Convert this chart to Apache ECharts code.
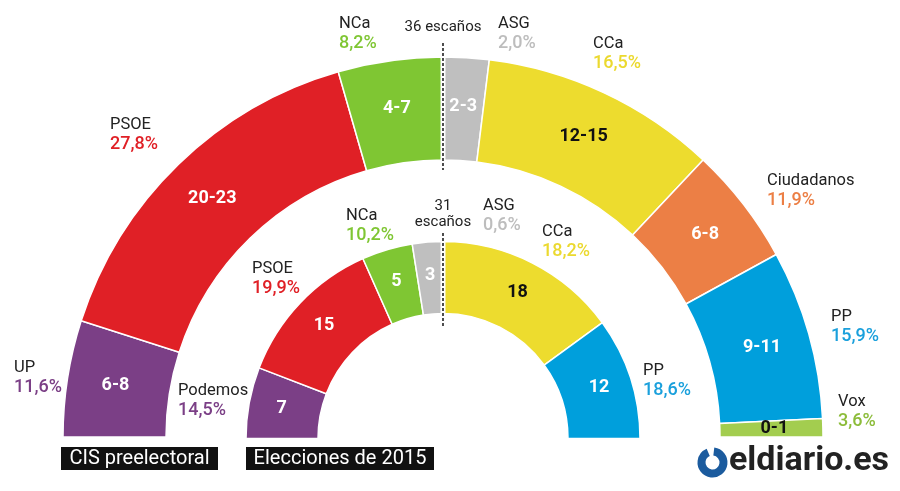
<!DOCTYPE html>
<html>
<head>
<meta charset="utf-8">
<script src="https://cdn.jsdelivr.net/npm/echarts@6/dist/echarts.min.js"></script>
<style>
html,body{margin:0;padding:0;background:#fff;}
#c{width:900px;height:491px;}
</style>
</head>
<body>
<div id="c"></div>
<script>
// ---- data ----
const outerParties = ['UP', 'PSOE', 'NCa', 'ASG', 'CCa', 'Ciudadanos', 'PP', 'Vox'];
const outerSeats = ['6-8', '20-23', '4-7', '2-3', '12-15', '6-8', '9-11', '0-1'];
const outerArcShare = [17.8, 56.2, 16.0, 7.0, 36.2, 18.1, 25.9, 2.8];
const outerVote = ['11,6%', '27,8%', '8,2%', '2,0%', '16,5%', '11,9%', '15,9%', '3,6%'];

const innerParties = ['Podemos', 'PSOE', 'NCa', 'ASG', 'CCa', 'PP'];
const innerSeats = [7, 15, 5, 3, 18, 12];
const innerVote = ['14,5%', '19,9%', '10,2%', '0,6%', '18,2%', '18,6%'];

const outerMajority = '36 escaños';
const innerMajority = ['31', 'escaños'];
const titles = ['CIS preelectoral', 'Elecciones de 2015'];

// ---- styles / layout ----
const partyColor = {
  UP: '#7b3f86', Podemos: '#7b3f86', PSOE: '#e02026', NCa: '#7fc633', ASG: '#bfbfbf',
  CCa: '#eddc2e', Ciudadanos: '#ec7f45', PP: '#009fdc', Vox: '#a3cd4f'
};
const pctColor = {
  UP: '#7b3f86', Podemos: '#7b3f86', PSOE: '#e02026', NCa: '#7fc633', ASG: '#bdbdbd',
  CCa: '#ebd92f', Ciudadanos: '#ec7f45', PP: '#1aa0dc', Vox: '#8cbc3a'
};
const darkLabel = { CCa: true, Vox: true };

const outerLabelPos = [[14, 368], [110, 125], [339, 24], [498, 24], [593, 44], [767, 181], [831, 317], [838, 402]];
const innerLabelPos = [[178, 391], [252, 269], [346, 216], [483, 206], [542, 232], [643, 371]];

const FONT = 'Roboto, "Noto Sans", sans-serif';

function pieData(parties, values, labels) {
  return parties.map((p, i) => ({
    name: p,
    value: values[i],
    itemStyle: { color: partyColor[p] },
    label: { color: darkLabel[p] ? '#111' : '#fff' },
    seatLabel: String(labels[i])
  }));
}

const outerData = pieData(outerParties, outerArcShare, outerSeats);
const innerData = pieData(innerParties, innerSeats, innerSeats);

function pieSeries(data, center, radius) {
  return {
    type: 'pie',
    center: center,
    radius: radius,
    startAngle: 180,
    endAngle: 0,
    clockwise: true,
    avoidLabelOverlap: false,
    silent: true,
    animation: false,
    itemStyle: { borderColor: '#fff', borderWidth: 1.5 },
    label: {
      show: true,
      position: 'inside',
      fontFamily: FONT,
      fontWeight: 'bold',
      fontSize: 18,
      formatter: p => data[p.dataIndex].seatLabel
    },
    labelLine: { show: false },
    emphasis: { disabled: true },
    data: data
  };
}

const graphics = [];
function partyLabels(parties, votes, pos) {
  parties.forEach((p, i) => {
    graphics.push({
      type: 'text', z: 100, x: pos[i][0], y: pos[i][1],
      style: { text: p, fill: '#222', font: '16.5px ' + FONT, textVerticalAlign: 'middle' }
    });
    graphics.push({
      type: 'text', z: 100, x: pos[i][0], y: pos[i][1] + 19,
      style: { text: votes[i], fill: pctColor[p], font: '500 18px ' + FONT, textVerticalAlign: 'middle' }
    });
  });
}
partyLabels(outerParties, outerVote, outerLabelPos);
partyLabels(innerParties, innerVote, innerLabelPos);

// majority markers
function marker(x, y1, y2) {
  graphics.push({ type: 'line', z: 90, shape: { x1: x, y1: y1 + 8, x2: x, y2: y2 - 4 }, style: { stroke: '#fff', lineWidth: 5 } });
  graphics.push({ type: 'line', z: 91, shape: { x1: x, y1: y1, x2: x, y2: y2 }, style: { stroke: '#222', lineWidth: 1.6, lineDash: [3, 2] } });
}
marker(443, 43, 170);
marker(443, 233, 327);
graphics.push({ type: 'text', z: 100, x: 443, y: 27, style: { text: outerMajority, fill: '#222', font: '15px ' + FONT, textAlign: 'center', textVerticalAlign: 'middle' } });
graphics.push({ type: 'text', z: 100, x: 443, y: 206, style: { text: innerMajority[0], fill: '#222', font: '15px ' + FONT, textAlign: 'center', textVerticalAlign: 'middle' } });
graphics.push({ type: 'text', z: 100, x: 443, y: 222, style: { text: innerMajority[1], fill: '#222', font: '15px ' + FONT, textAlign: 'center', textVerticalAlign: 'middle' } });

// title boxes
function titleBox(text, x, w) {
  graphics.push({ type: 'rect', z: 100, shape: { x: x, y: 447, width: w, height: 23 }, style: { fill: '#111' } });
  graphics.push({ type: 'text', z: 101, x: x + w / 2, y: 459, style: { text: text, fill: '#fff', font: '20px ' + FONT, textAlign: 'center', textVerticalAlign: 'middle' } });
}
titleBox(titles[0], 61, 157);
titleBox(titles[1], 246, 188);

// logo
graphics.push({
  type: 'arc', z: 100,
  shape: { cx: 712.5, cy: 462.5, r: 11, startAngle: -Math.PI / 2 + 0.12, endAngle: -Math.PI / 2 - 0.4 + Math.PI * 2, clockwise: true },
  style: { stroke: '#1b5b9e', lineWidth: 8, fill: null }
});
graphics.push({ type: 'text', z: 100, x: 729, y: 461, style: { text: 'eldiario.es', fill: '#222', font: 'bold 34px ' + FONT, textVerticalAlign: 'middle' } });

const chart = echarts.init(document.getElementById('c'), null, { renderer: 'canvas' });
chart.setOption({
  backgroundColor: '#fff',
  animation: false,
  series: [
    pieSeries(outerData, [443, 437], [277, 380]),
    pieSeries(innerData, [443, 438.5], [125, 197])
  ],
  graphic: graphics
});
</script>
</body>
</html>
